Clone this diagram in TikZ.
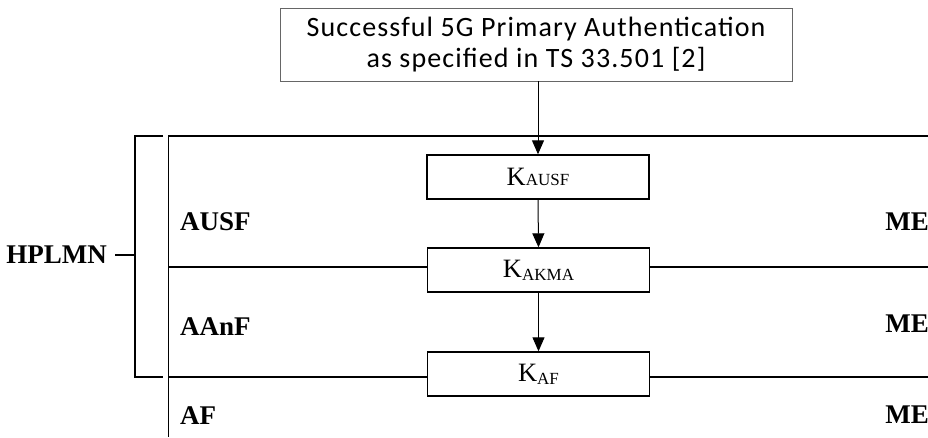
\documentclass[tikz,border=0pt]{standalone}
\usepackage{fontspec}
\setmainfont{Liberation Serif}
\newfontfamily\calfont[LetterSpace=4]{Carlito}
\usetikzlibrary{arrows.meta}
\begin{document}
\begin{tikzpicture}[x=1pt,y=-1pt,
  keybox/.style={draw,line width=1.4pt,minimum width=222pt,minimum height=44pt,inner sep=0pt,font=\fontsize{26.5}{26}\selectfont},
  lbl/.style={font=\fontsize{27}{27}\selectfont\bfseries,inner sep=0pt,anchor=base west},
  rlbl/.style={font=\fontsize{27}{27}\selectfont\bfseries,inner sep=0pt,anchor=base east},
  sep/.style={line width=1.2pt},
  brk/.style={line width=1.6pt},
  arr/.style={line width=1pt,-{Triangle[length=14pt,width=12pt]}}]
\useasboundingbox (0,0) rectangle (928,437);
\node[draw=black!60,line width=0.9pt,minimum width=512pt,minimum height=73pt,inner sep=0pt,align=center,
  font=\calfont\fontsize{28}{33}\selectfont] (top) at (536,44.5)
  {\raisebox{-3pt}{Successful 5G Primary Authentication}\\\raisebox{-1pt}{as specified in TS 33.501 [2]}};
\node[keybox] (kausf) at (538,177) {K{\fontsize{17}{17}\selectfont AUSF}};
\node[keybox] (kakma) at (538.5,270) {K{\fontsize{17}{17}\selectfont\raisebox{-3pt}{AKMA}}};
\node[keybox] (kaf) at (538.5,374) {K{\fontsize{17}{17}\selectfont\raisebox{-3pt}{AF}}};
\draw[arr] (top.south -| kausf.north) -- (kausf.north);
\draw[arr] (kausf.south) -- (kakma.north);
\draw[arr] (kakma.south) -- (kaf.north);
% frame lines
\coordinate (vt) at (168,136);
\coordinate (vb) at (168,437);
\coordinate (rt) at (928,136);
\coordinate (l1) at (168,267);
\coordinate (r1) at (928,267);
\coordinate (l2) at (168,377);
\coordinate (r2) at (928,377);
\draw[line width=1pt] (vt) -- (vb);
\draw[sep] (vt) -- (rt);
\draw[sep] (l1) -- (l1 -| kakma.west);
\draw[sep] (r1 -| kakma.east) -- (r1);
\draw[sep] (l2) -- (l2 -| kaf.west);
\draw[sep] (r2 -| kaf.east) -- (r2);
% bracket
\coordinate (bt) at (163,136);
\coordinate (bb) at (163,377);
\draw[brk] (bt) -- (135,136) -- (135,377) -- (bb);
\coordinate (tk) at (135,255);
\node[font=\fontsize{27}{27}\selectfont\bfseries,inner sep=0pt,anchor=base east] (hplmn) at (107,263) {HPLMN};
\draw[brk] (tk) -- ([xshift=8pt]hplmn.east |- tk);
\node[lbl] (ausf) at (180,230) {AUSF};
\node[lbl] (aanf) at (180,335) {AAnF};
\node[lbl] (af) at (180,424) {AF};
\node[rlbl] (me1) at (929,230) {ME};
\node[rlbl] (me2) at (929,332) {ME};
\node[rlbl] (me3) at (929,423) {ME};
\end{tikzpicture}
\end{document}
